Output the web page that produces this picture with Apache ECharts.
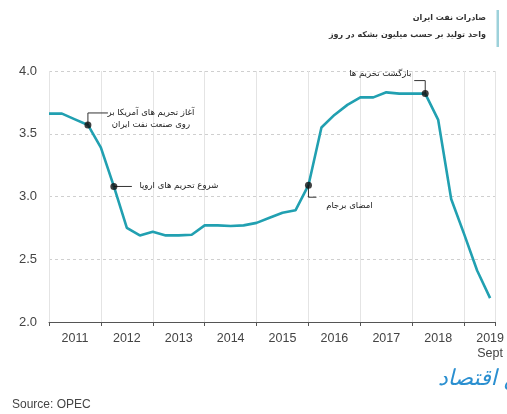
<!DOCTYPE html>
<html><head><meta charset="utf-8">
<script src="https://cdn.jsdelivr.net/npm/echarts@6/dist/echarts.min.js"></script>
<style>html,body{margin:0;padding:0;background:#fff}#c{width:507px;height:414px}</style>
</head><body><div id="c"></div>
<script>
// Quarterly observations (2011 Q1 ... 2019 Q3)
const quarters = [2011,2011.25,2011.5,2011.75,2012,2012.25,2012.5,2012.75,2013,2013.25,2013.5,2013.75,
  2014,2014.25,2014.5,2014.75,2015,2015.25,2015.5,2015.75,2016,2016.25,2016.5,2016.75,
  2017,2017.25,2017.5,2017.75,2018,2018.25,2018.5,2018.75,2019,2019.25,2019.5];
const exportsMbd = [3.66,3.66,3.615,3.57,3.39,3.08,2.75,2.69,2.72,2.69,2.69,2.695,
  2.77,2.77,2.765,2.77,2.79,2.83,2.87,2.89,3.09,3.55,3.65,3.73,
  3.79,3.79,3.83,3.82,3.82,3.82,3.61,2.98,2.70,2.41,2.19];
const yearLabels = ['2011','2012','2013','2014','2015','2016','2017','2018','2019\nSept'];
const yearLabelPos = [2011.5,2012.5,2013.5,2014.5,2015.5,2016.5,2017.5,2018.5,2019.5];
const eventIndex = [3,5,20,29];
const eventText = ['آغاز تحریم های آمریکا بر\nروی صنعت نفت ایران','شروع تحریم های اروپا','امضای برجام','بازگشت تحریم ها'];
const titleText = 'صادرات نفت ایران';
const subtitleText = 'واحد تولید بر حسب میلیون بشکه در روز';
const sourceText = 'Source: OPEC';
const logoText = 'مرجع اقتصاد';

const chart = echarts.init(document.getElementById('c'), null, {renderer:'canvas'});
const fa = 'DejaVu Sans';
chart.setOption({
  animation:false,
  grid:{left:49,right:7,top:71,bottom:92},
  xAxis:{type:'value',min:2011,max:2019.6,interval:1,
    axisLine:{show:true,onZero:false,lineStyle:{color:'#555',width:1}},
    axisTick:{show:true,length:4,lineStyle:{color:'#555'}},
    axisLabel:{customValues:yearLabelPos,color:'#444',fontSize:12.5,fontFamily:'Liberation Sans',margin:9,lineHeight:15,
      formatter:v=>yearLabels[yearLabelPos.indexOf(v)] || ''},
    splitLine:{show:true,lineStyle:{color:'#e4e4e4',width:1}}},
  yAxis:{type:'value',min:2,max:4,interval:0.5,
    axisLine:{show:false},axisTick:{show:false},
    axisLabel:{color:'#444',fontSize:13,fontFamily:'Liberation Sans',margin:12,formatter:v=>v.toFixed(1)},
    splitLine:{show:true,lineStyle:{color:'#cfcfcf',type:[3,3],width:1}}},
  series:[
    {type:'line',data:quarters.map((x,i)=>[x,exportsMbd[i]]),symbol:'none',
      lineStyle:{color:'#21a0b1',width:2.6},z:2},
    {type:'scatter',data:eventIndex.map(i=>[quarters[i],exportsMbd[i]]),symbolSize:7,
      itemStyle:{color:'#111'},z:4}
  ]
});

// annotation styling: leader shapes and label offsets relative to each event point
const annoStyle = [
  {pts:[[0,0],[0,-12],[20,-12]], dx:63, dy:-6.5},
  {pts:[[0,0],[18,0]], dx:65, dy:-1},
  {pts:[[0,0],[0,12],[8,12]], dx:41, dy:21},
  {pts:[[0,0],[0,-13],[-11,-13]], dx:-45, dy:-20}
];
const g = [];
eventIndex.forEach((idx,k)=>{
  const p = chart.convertToPixel({gridIndex:0},[quarters[idx],exportsMbd[idx]]);
  const s = annoStyle[k];
  g.push({type:'polyline',shape:{points:s.pts.map(q=>[p[0]+q[0],p[1]+q[1]])},
    style:{stroke:'#333',lineWidth:1,fill:null},z:3});
  g.push({type:'text',x:p[0]+s.dx,y:p[1]+s.dy,
    style:{text:eventText[k],font:'8.5px "'+fa+'"',fill:'#222',align:'center',verticalAlign:'middle',lineHeight:12},z:5});
});
g.push({type:'text',x:486,y:18,
  style:{text:titleText,font:'bold 8px "'+fa+'"',fill:'#333',align:'right',verticalAlign:'middle'},z:5});
g.push({type:'text',x:486,y:35,
  style:{text:subtitleText,font:'bold 8px "'+fa+'"',fill:'#333',align:'right',verticalAlign:'middle'},z:5});
g.push({type:'rect',shape:{x:496.5,y:10,width:2.5,height:37},style:{fill:'#9dd1da'},z:6});
g.push({type:'text',x:12,y:405,style:{text:sourceText,font:'12px "Liberation Sans"',fill:'#444',align:'left',verticalAlign:'middle'}});
g.push({type:'text',x:438,y:379,style:{text:logoText,font:'italic 22px "'+fa+'"',fill:'#2a8fd0',align:'left',verticalAlign:'middle'}});
chart.setOption({graphic:g});
</script></body></html>
